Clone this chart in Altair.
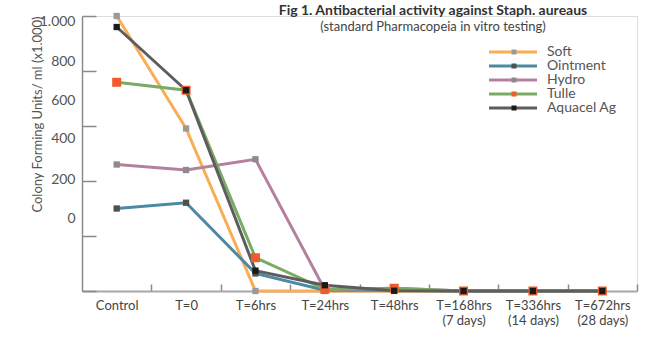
import altair as alt
import pandas as pd

categories = ["Control", "T=0", "T=6hrs", "T=24hrs", "T=48hrs",
              "T=168hrs (7 days)", "T=336hrs (14 days)", "T=672hrs (28 days)"]
series = ["Soft", "Ointment", "Hydro", "Tulle", "Aquacel Ag"]
soft = [1000, 591, 0, 0, 0, 0, 0, 0]
ointment = [300, 321, 64, 3, 3, 0, 0, 0]
hydro = [460, 440, 479, 5, 10, 0, 0, 0]
tulle = [759, 730, 121, 6, 10, 0, 0, 0]
aquacel = [960, 730, 74, 21, 1, 0, 0, 0]
y_ticks = [0, 200, 400, 600, 800, 1000]

line_colors = ["#f9ad55", "#4b89a5", "#b5809d", "#7aab63", "#5d5d5d"]
marker_colors = ["#9a9a9a", "#505050", "#8c8c8c", "#f15a29", "#1a1a1a"]

rows = []
for name, vals in zip(series, [soft, ointment, hydro, tulle, aquacel]):
    for c, v in zip(categories, vals):
        rows.append({"series": name, "time": c, "value": v})
df = pd.DataFrame(rows)

FONT = "Lato"

x_enc = alt.X(
    "time:N",
    sort=categories,
    scale=alt.Scale(type="point", domain=categories, padding=0.5),
    axis=alt.Axis(
        title=None,
        tickSize={"expr": "-7"},
        tickOffset=34.7,
        tickColor="#8a8a8a",
        tickWidth=1.5,
        domainColor="#a8a8a8",
        domainWidth=2,
        labelAngle=0,
        labelOffset=-34.7,
        labelFont=FONT,
        labelFontSize=13,
        labelColor="#444444",
        labelPadding=15,
        labelLineHeight=15,
        labelExpr="indexof(datum.value, ' (') > 0 ? [slice(datum.value, 0, indexof(datum.value, ' (')), slice(datum.value, indexof(datum.value, ' (') + 1)] : datum.value",
    ),
)

y_enc = alt.Y(
    "value:Q",
    scale=alt.Scale(domain=[0, 1000], nice=False, zero=True),
    axis=alt.Axis(
        values=y_ticks,
        grid=False,
        tickSize={"expr": "-14"},
        tickColor="#8a8a8a",
        tickWidth=1.5,
        domainColor="#8a8a8a",
        domainWidth=1.5,
        labelFont=FONT,
        labelFontSize=14,
        labelColor="#555555",
        labelPadding=21,
        labelFlush=False,
        labelOverlap=False,
        labelExpr="datum.value == 1000 ? '1.000' : datum.label",
        labelOffset={
            "condition": [
                {"test": "datum.value == 1000", "value": 5},
                {"test": "datum.value == 800", "value": -10},
                {"test": "datum.value == 600", "value": -26},
                {"test": "datum.value == 400", "value": -43},
                {"test": "datum.value == 200", "value": -57},
            ],
            "value": -73,
        },
        title="Colony Forming Units/ ml (x1.000)",
        titleFont=FONT,
        titleFontSize=13,
        titleFontWeight="normal",
        titleColor="#555555",
        titleX=-45,
        titleY=98,
        titleAlign="center",
        titleBaseline="middle",
    ),
)

lines = alt.Chart(df).mark_line(strokeWidth=3).encode(
    x=x_enc,
    y=y_enc,
    stroke=alt.Stroke(
        "series:N",
        scale=alt.Scale(domain=series, range=line_colors),
        legend=alt.Legend(
            title=None,
            orient="none",
            legendX=424,
            legendY=29,
            symbolType="M-8,0H8",
            symbolSize=36,
            symbolStrokeWidth=3,
            labelOffset=27,
            rowPadding=0,
            labelFont=FONT,
            labelFontSize=14,
            labelColor="#555555",
        ),
    ),
)

points = alt.Chart(df).mark_square(opacity=1).encode(
    x=x_enc,
    y=y_enc,
    fill=alt.Fill(
        "series:N",
        scale=alt.Scale(domain=series, range=marker_colors),
        legend=alt.Legend(
            title=None,
            orient="right",
            offset=-159,
            padding=29,
            symbolType="square",
            symbolSize=25,
            symbolStrokeWidth=0,
            labelOpacity=0,
            rowPadding=0,
            labelFont=FONT,
            labelFontSize=14,
        ),
    ),
    size=alt.condition("datum.series == 'Tulle'", alt.value(81), alt.value(40)),
)

chart = alt.layer(lines, points).properties(
    width=555,
    height=275,
    autosize=alt.AutoSizeParams(type="none"),
    padding={"left": 82, "top": 16, "right": 29, "bottom": 53},
    title=alt.TitleParams(
        text="Fig 1. Antibacterial activity against Staph. aureaus",
        subtitle="(standard Pharmacopeia in vitro testing)",
        anchor="middle",
        frame="group",
        dx=73.5,
        dy=28,
        font=FONT,
        fontSize=14,
        fontWeight="bold",
        color="#333333",
        subtitleFont=FONT,
        subtitleFontSize=13,
        subtitleColor="#444444",
    ),
).configure_view(strokeWidth=0).configure(background="white")

chart.save("out.html", embed_options={"renderer": "svg", "actions": False})
